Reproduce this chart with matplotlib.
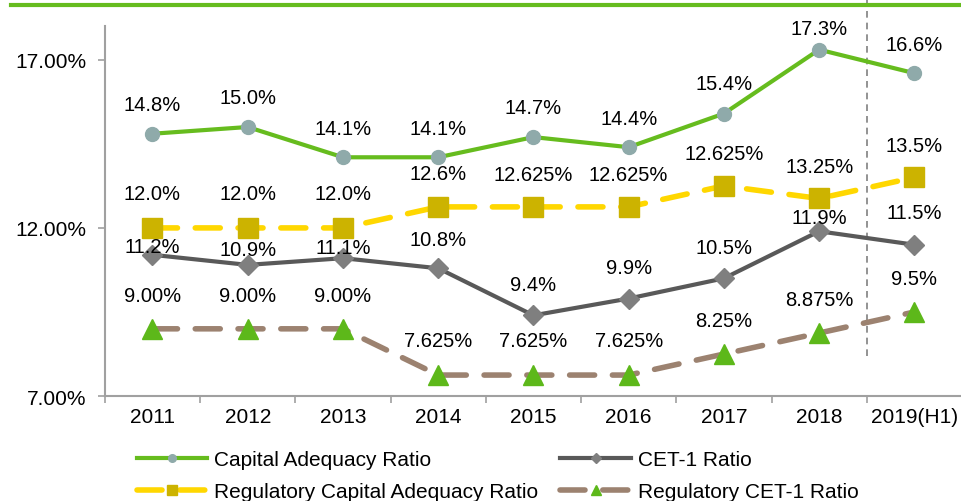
import matplotlib.pyplot as plt
from matplotlib.lines import Line2D

plt.rcParams['font.family'] = ['Liberation Sans', 'DejaVu Sans']

years = ['2011', '2012', '2013', '2014', '2015', '2016', '2017', '2018', '2019(H1)']
car = [14.8, 15.0, 14.1, 14.1, 14.7, 14.4, 15.4, 17.3, 16.6]
cet1 = [11.2, 10.9, 11.1, 10.8, 9.4, 9.9, 10.5, 11.9, 11.5]
reg_car = [12.0, 12.0, 12.0, 12.625, 12.625, 12.625, 13.25, 12.875, 13.5]
reg_cet1 = [9.0, 9.0, 9.0, 7.625, 7.625, 7.625, 8.25, 8.875, 9.5]

car_lbl = ['14.8%', '15.0%', '14.1%', '14.1%', '14.7%', '14.4%', '15.4%', '17.3%', '16.6%']
cet1_lbl = ['11.2%', '10.9%', '11.1%', '10.8%', '9.4%', '9.9%', '10.5%', '11.9%', '11.5%']
reg_car_lbl = ['12.0%', '12.0%', '12.0%', '12.6%', '12.625%', '12.625%', '12.625%', '13.25%', '13.5%']
reg_cet1_lbl = ['9.00%', '9.00%', '9.00%', '7.625%', '7.625%', '7.625%', '8.25%', '8.875%', '9.5%']

x = list(range(len(years)))

fig = plt.figure(figsize=(9.62, 5.02), dpi=100)
ax = fig.add_axes([0.109, 0.209, 0.891, 0.737])

green = '#66BC1E'
l1, = ax.plot(x, car, color=green, lw=3, marker='o', ms=10, mfc='#8FAAAA', mec='#8FAAAA',
              label='Capital Adequacy Ratio', zorder=4)
l2, = ax.plot(x, cet1, color='#595959', lw=3, marker='D', ms=10, mfc='#7F7F7F', mec='#7F7F7F',
              label='CET-1 Ratio', zorder=4)
l3, = ax.plot(x, reg_car, color='#FFD700', lw=4, ls=(0, (4.5, 3.2)), dash_capstyle='round',
              marker='s', ms=14, mfc='#CCB300', mec='#CCB300',
              label='Regulatory Capital Adequacy Ratio', zorder=3)
l4, = ax.plot(x, reg_cet1, color='#9C8270', lw=4, ls=(0, (4.5, 3.2)), dash_capstyle='round',
              marker='^', ms=14, mfc='#5DB81A', mec='#5DB81A',
              label='Regulatory CET-1 Ratio', zorder=3)

# data labels (offset above point, in points)
def labels(vals, txts, offs):
    for i, (v, t) in enumerate(zip(vals, txts)):
        ax.annotate(t, (i, v), xytext=(0, offs[i]), textcoords='offset points',
                    ha='center', va='center', fontsize=14.5, color='black', zorder=6)

labels(car, car_lbl, [21, 21, 21, 21, 21, 21, 22, 15, 21])
labels(cet1, cet1_lbl, [6, 11, 8, 21, 22, 22, 22, 10, 23])
labels(reg_car, reg_car_lbl, [25, 25, 25, 24, 23, 23, 23, 23, 23])
labels(reg_cet1, reg_cet1_lbl, [24, 24, 24, 25, 25, 25, 24, 24, 24])

ax.set_xlim(-0.5, 8.5)
ax.set_ylim(7, 18)
ax.set_yticks([7, 12, 17])
ax.set_yticklabels(['7.00%', '12.00%', '17.00%'], fontsize=15)
ax.set_xticks(x)
ax.set_xticklabels(years, fontsize=15)
ax.set_xticks([i - 0.5 for i in range(10)], minor=True)
ax.tick_params(axis='x', which='major', length=0, pad=8)
ax.tick_params(axis='x', which='minor', length=5, color='#A0A0A0', width=1.2)
ax.tick_params(axis='y', length=5, color='#A0A0A0', width=1.2, pad=8)
for s in ['top', 'right']:
    ax.spines[s].set_visible(False)
for s in ['left', 'bottom']:
    ax.spines[s].set_color('#A0A0A0')
    ax.spines[s].set_linewidth(1.5)

# separator before half-year
ax.plot([7.5, 7.5], [8.2, 19.2], color='#808080', lw=1.2, ls=(0, (4, 3)),
        clip_on=False, zorder=2)

# top green bar
fig.add_artist(Line2D([0.011, 1.0], [0.988, 0.988], color=green, lw=3,
                      transform=fig.transFigure))

fig.legend(handles=[l1, l3, l2, l4], loc='upper left', bbox_to_anchor=(0.142, 0.101),
           ncol=2, frameon=False, fontsize=15, handlelength=3.4, handletextpad=0.33,
           columnspacing=1.05, labelspacing=0.6, markerscale=0.55,
           borderaxespad=0, borderpad=0)

fig.savefig('out.png', dpi=100)
